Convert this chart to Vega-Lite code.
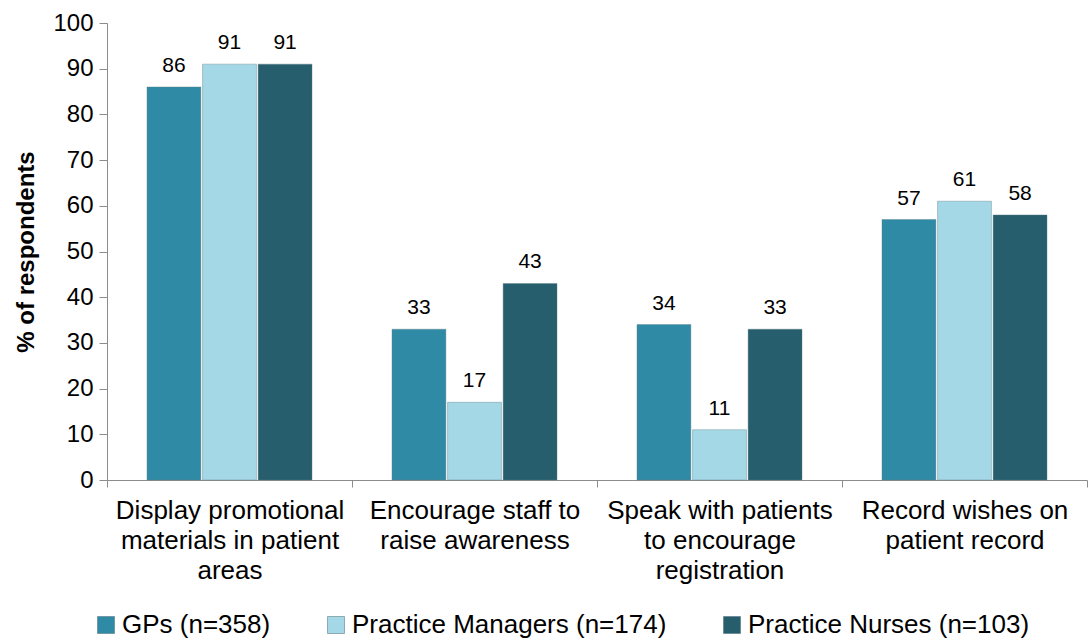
{
  "$schema": "https://vega.github.io/schema/vega-lite/v6.json",
  "autosize": {"type": "none"},
  "width": 980,
  "height": 457,
  "padding": {"left": 107, "top": 23, "right": 2, "bottom": 161},
  "background": "white",
  "config": {"font": "Liberation Sans", "view": {"stroke": null}},
  "data": {"values": [
    {"category": "Display promotional materials in patient areas", "group": "GPs (n=358)", "value": 86},
    {"category": "Display promotional materials in patient areas", "group": "Practice Managers (n=174)", "value": 91},
    {"category": "Display promotional materials in patient areas", "group": "Practice Nurses (n=103)", "value": 91},
    {"category": "Encourage staff to raise awareness", "group": "GPs (n=358)", "value": 33},
    {"category": "Encourage staff to raise awareness", "group": "Practice Managers (n=174)", "value": 17},
    {"category": "Encourage staff to raise awareness", "group": "Practice Nurses (n=103)", "value": 43},
    {"category": "Speak with patients to encourage registration", "group": "GPs (n=358)", "value": 34},
    {"category": "Speak with patients to encourage registration", "group": "Practice Managers (n=174)", "value": 11},
    {"category": "Speak with patients to encourage registration", "group": "Practice Nurses (n=103)", "value": 33},
    {"category": "Record wishes on patient record", "group": "GPs (n=358)", "value": 57},
    {"category": "Record wishes on patient record", "group": "Practice Managers (n=174)", "value": 61},
    {"category": "Record wishes on patient record", "group": "Practice Nurses (n=103)", "value": 58}
  ]},
  "encoding": {
    "x": {"field": "category", "type": "nominal", "sort": null,
      "scale": {"paddingInner": 0, "paddingOuter": 0},
      "axis": {"title": null, "labelAngle": 0, "labelFontSize": 26, "labelColor": "#000",
        "domainColor": "#8c8c8c", "tickColor": "#8c8c8c", "tickBand": "extent", "tickSize": 7, "labelPadding": 10, "labelLineHeight": 30, "labelLimit": 300,
        "labelExpr": "datum.value == 'Display promotional materials in patient areas' ? ['Display promotional', 'materials in patient', 'areas'] : datum.value == 'Encourage staff to raise awareness' ? ['Encourage staff to', 'raise awareness'] : datum.value == 'Speak with patients to encourage registration' ? ['Speak with patients', 'to encourage', 'registration'] : datum.value == 'Record wishes on patient record' ? ['Record wishes on', 'patient record'] : ''"}},
    "xOffset": {"field": "group", "type": "nominal", "scale": {"paddingInner": 0.03, "paddingOuter": 0.72}},
    "y": {"field": "value", "type": "quantitative",
      "scale": {"domain": [0, 100]},
      "axis": {"title": "% of respondents", "titleFontSize": 24, "titleFontWeight": "bold", "titleColor": "#000", "titlePadding": 14,
        "values": [0,10,20,30,40,50,60,70,80,90,100], "grid": false, "labelFontSize": 24, "labelColor": "#000", "labelPadding": 6,
        "domainColor": "#8c8c8c", "tickColor": "#8c8c8c", "tickSize": 8}}
  },
  "layer": [
    {"mark": {"type": "bar", "stroke": "#5f7f88", "strokeWidth": 0.8, "strokeOpacity": 0.5},
      "encoding": {"color": {"field": "group", "type": "nominal",
        "scale": {"range": ["#2F8AA5", "#A5D8E6", "#265E6E"]},
        "legend": {"title": null, "orient": "none", "legendX": -14, "legendY": 589, "direction": "horizontal", "symbolType": "square", "symbolSize": 289,
          "labelFontSize": 26, "labelColor": "#000", "labelOffset": 3, "columnPadding": 52, "symbolStrokeColor": "#4a6a74", "symbolStrokeWidth": 0.5, "labelLimit": 500, "padding": 0}}}},
    {"mark": {"type": "text", "dy": -15, "baseline": "alphabetic", "fontSize": 21, "color": "#000"},
      "encoding": {"text": {"field": "value", "type": "quantitative"}}}
  ]
}
